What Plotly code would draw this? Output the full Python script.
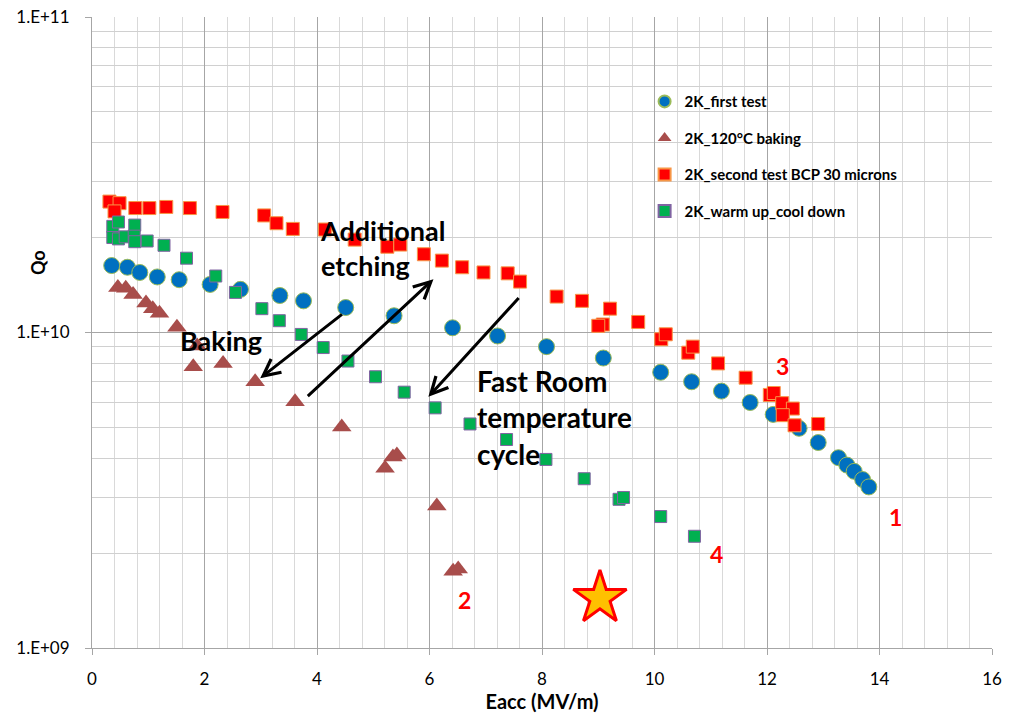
import plotly.graph_objects as go

# ---- data ----
first_x = [0.35, 0.63, 0.85, 1.16, 1.55, 2.10, 2.64, 3.34, 3.76, 4.51, 5.37, 6.41, 7.21, 8.08,
           9.09, 10.11, 10.66, 11.19, 11.70, 12.11, 12.57, 12.91, 13.27, 13.42, 13.55, 13.70, 13.81]
first_q = [1.63e10, 1.61e10, 1.55e10, 1.50e10, 1.47e10, 1.42e10, 1.37e10, 1.31e10, 1.26e10, 1.20e10,
           1.13e10, 1.035e10, 9.75e9, 9.02e9, 8.30e9, 7.48e9, 6.98e9, 6.52e9, 6.00e9, 5.50e9,
           4.97e9, 4.48e9, 4.01e9, 3.80e9, 3.63e9, 3.42e9, 3.24e9]

bake_x = [0.46, 0.60, 0.73, 0.96, 1.08, 1.20, 1.51, 1.87, 1.80, 2.33, 2.90, 3.61, 4.44, 5.21,
          5.35, 5.42, 6.13, 6.42, 6.51]
bake_q = [1.39e10, 1.38e10, 1.32e10, 1.24e10, 1.19e10, 1.15e10, 1.04e10, 9.06e9, 7.79e9, 7.98e9,
          6.98e9, 6.03e9, 5.02e9, 3.71e9, 4.03e9, 4.09e9, 2.82e9, 1.75e9, 1.78e9]

second_x = [0.31, 0.49, 0.40, 0.77, 1.02, 1.32, 1.74, 2.32, 3.06, 3.28, 3.57, 4.14, 4.67, 5.25,
            5.48, 5.90, 6.22, 6.58, 6.96, 7.39, 7.61, 8.26, 8.71, 9.21, 9.08, 9.00, 9.71, 10.12,
            10.20, 10.60, 10.68, 11.13, 11.62, 12.05, 12.12, 12.27, 12.46, 12.28, 12.49, 12.91]
second_q = [2.60e10, 2.57e10, 2.42e10, 2.48e10, 2.48e10, 2.50e10, 2.48e10, 2.41e10, 2.35e10, 2.22e10,
            2.13e10, 2.12e10, 1.97e10, 1.87e10, 1.90e10, 1.77e10, 1.69e10, 1.61e10, 1.55e10, 1.54e10,
            1.45e10, 1.30e10, 1.26e10, 1.19e10, 1.06e10, 1.05e10, 1.08e10, 9.52e9, 9.87e9, 8.63e9,
            9.02e9, 7.98e9, 7.19e9, 6.34e9, 6.43e9, 5.97e9, 5.74e9, 5.47e9, 5.08e9, 5.13e9]

warm_x = [0.37, 0.47, 0.76, 0.37, 0.47, 0.59, 0.75, 0.76, 0.98, 1.28, 1.68, 2.20, 2.55, 3.02,
          3.33, 3.72, 4.11, 4.55, 5.04, 5.55, 6.10, 6.72, 7.37, 8.07, 8.75, 9.37, 9.45, 10.11, 10.71]
warm_q = [2.17e10, 2.24e10, 2.19e10, 2.00e10, 1.98e10, 2.01e10, 2.02e10, 1.94e10, 1.95e10, 1.89e10,
          1.72e10, 1.51e10, 1.34e10, 1.19e10, 1.09e10, 9.86e9, 8.96e9, 8.12e9, 7.24e9, 6.47e9,
          5.77e9, 5.13e9, 4.58e9, 3.96e9, 3.44e9, 2.96e9, 3.00e9, 2.61e9, 2.26e9]

star_x = [9.03]
star_q = [1.44e9]

x_ticks = [0, 2, 4, 6, 8, 10, 12, 14, 16]
y_ticks = [1e9, 1e10, 1e11]
y_ticktext = ["1.E+09", "1.E+10", "1.E+11"]
y_minor = [m * 10 ** e for e in (9, 10) for m in range(2, 10)]

FONT = "Lato"

fig = go.Figure()
fig.add_trace(go.Scatter(x=first_x, y=first_q, mode="markers", name="2K_first test",
                         legendgroup="a",
                         marker=dict(symbol="circle", size=16, color="#0070C0",
                                     line=dict(color="#9BBB59", width=1))))
fig.add_trace(go.Scatter(x=bake_x, y=bake_q, mode="markers", name="2K_120°C baking",
                         legendgroup="b",
                         marker=dict(symbol="triangle-up", size=17, color="#A84D4B",
                                     line=dict(color="#A84D4B", width=0))))
fig.add_trace(go.Scatter(x=second_x, y=second_q, mode="markers", name="2K_second test BCP 30 microns",
                         legendgroup="c",
                         marker=dict(symbol="square", size=13, color="#FF0000",
                                     line=dict(color="#F79646", width=1))))
fig.add_trace(go.Scatter(x=warm_x, y=warm_q, mode="markers", name="2K_warm up_cool down",
                         legendgroup="d",
                         marker=dict(symbol="square", size=12, color="#00B050",
                                     line=dict(color="#8064A2", width=1))))
fig.add_trace(go.Scatter(x=star_x, y=star_q, mode="markers", showlegend=False,
                         marker=dict(symbol="star", size=40, color="#FFC000",
                                     line=dict(color="#FF0000", width=3))))

annots = []
annots.append(dict(x=4.02, y=10.383, xref="x", yref="y", text="<b>Additional<br>etching</b>",
                   showarrow=False, xanchor="left", yanchor="top", align="left",
                   font=dict(family=FONT, size=27, color="black")))
annots.append(dict(x=1.53, y=9.976, xref="x", yref="y", text="<b>Baking</b>",
                   showarrow=False, xanchor="left", yanchor="middle", align="left",
                   font=dict(family=FONT, size=27, color="black")))
annots.append(dict(x=6.81, y=9.906, xref="x", yref="y", text="<b>Fast Room<br>temperature<br>cycle</b>",
                   showarrow=False, xanchor="left", yanchor="top", align="left",
                   font=dict(family=FONT, size=28, color="black")))
for t, xx, yy in [("1", 14.28, 9.414), ("2", 6.63, 9.151), ("3", 12.27, 9.894), ("4", 11.11, 9.297)]:
    annots.append(dict(x=xx, y=yy, xref="x", yref="y", text="<b>%s</b>" % t, showarrow=False,
                       font=dict(family=FONT, size=23, color="#FF0000", weight="bold")))
for (tx, ty, hx, hy) in [(4.47, 10.061, 2.99, 9.855), (3.81, 9.794, 6.07, 10.169), (7.61, 10.114, 5.98, 9.796)]:
    annots.append(dict(x=hx, y=hy, ax=tx, ay=ty, xref="x", yref="y", axref="x", ayref="y",
                       text="", showarrow=True, arrowhead=5, arrowsize=1.1, arrowwidth=3,
                       arrowcolor="black"))
annots.append(dict(x=-0.06, y=0.61, xref="paper", yref="paper", text="<b>Qo</b>", textangle=-90,
                   xanchor="center", yanchor="middle",
                   showarrow=False, font=dict(family=FONT, size=18, color="black")))

fig.update_layout(
    width=1012, height=715,
    margin=dict(l=92, r=20, t=17, b=67),
    paper_bgcolor="white", plot_bgcolor="white",
    font=dict(family=FONT, size=17, color="black"),
    showlegend=True,
    legend=dict(x=0.614, y=0.892, xanchor="left", yanchor="top", bgcolor="rgba(0,0,0,0)",
                font=dict(family=FONT, size=15, color="black", weight="bold"),
                tracegroupgap=14, itemsizing="constant"),
    annotations=annots,
)
fig.update_xaxes(range=[0, 16], tickvals=x_ticks, showgrid=True, gridcolor="#A6A6A6", gridwidth=1,
                 minor=dict(dtick=0.4, tick0=0, showgrid=True, gridcolor="#D9D9D9", gridwidth=1),
                 showline=True, linecolor="#A6A6A6", linewidth=1, ticks="outside", ticklen=6,
                 tickcolor="#A6A6A6", zeroline=False, ticklabelstandoff=10, automargin=False,
                 tickfont=dict(family=FONT, size=17),
                 title=dict(text="<b>Eacc (MV/m)</b>", font=dict(family=FONT, size=20), standoff=6))
fig.update_yaxes(type="log", range=[9, 11], tickvals=y_ticks, ticktext=y_ticktext, showgrid=True,
                 gridcolor="#A6A6A6", gridwidth=1,
                 minor=dict(tickvals=y_minor, showgrid=True, gridcolor="#D0D0D0", gridwidth=1),
                 showline=True, linecolor="#A6A6A6", linewidth=1, ticks="outside", ticklen=6,
                 tickcolor="#A6A6A6", zeroline=False, ticklabelstandoff=12, automargin=False,
                 tickfont=dict(family=FONT, size=17))

fig.write_html("out.html", config={"displayModeBar": False},
               post_script="document.body.style.margin='0';document.body.style.overflow='hidden';")
